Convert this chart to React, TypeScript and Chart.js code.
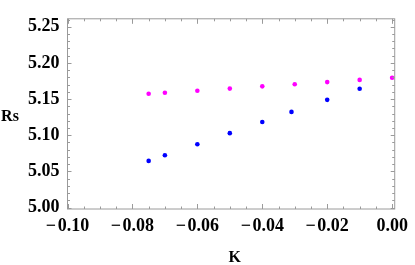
import React, { useEffect, useRef } from "react";
import { Chart, registerables } from "chart.js";

Chart.register(...registerables);

const kBlue = [-0.075, -0.07, -0.06, -0.05, -0.04, -0.031, -0.02, -0.01];
const rsBlue = [5.0645, 5.0723, 5.0876, 5.1029, 5.1182, 5.1323, 5.1489, 5.1642];
const kMagenta = [-0.075, -0.07, -0.06, -0.05, -0.04, -0.03, -0.02, -0.01, 0.0];
const rsMagenta = [5.1574, 5.1587, 5.1616, 5.1645, 5.1676, 5.1705, 5.1735, 5.1765, 5.1795];

const xTicks = [-0.1, -0.08, -0.06, -0.04, -0.02, 0.0];
const yTicks = [5.0, 5.05, 5.1, 5.15, 5.2, 5.25];
const xMinorStep = 0.005;
const yMinorStep = 0.01;
const xTitle = "K";
const yTitle = "Rs";

const FRAME = "#9a9a9a";
const FONT = "'Liberation Serif', 'DejaVu Serif', serif";

const framePlugin = {
  id: "mmaFrame",
  afterDatasetsDraw(chart: any) {
    const { ctx, chartArea: a, scales } = chart;
    const xs = scales.x;
    const ys = scales.y;
    ctx.save();
    ctx.strokeStyle = FRAME;
    ctx.lineWidth = 1;
    ctx.strokeRect(a.left, a.top, a.right - a.left, a.bottom - a.top);
    ctx.beginPath();
    for (let i = 0; i <= 20; i++) {
      const v = -0.1 + i * xMinorStep;
      const px = Math.round(xs.getPixelForValue(v)) + 0.5;
      if (px < a.left || px > a.right) continue;
      const major = i % 4 === 0;
      const len = major ? 5 : 2.5;
      ctx.moveTo(px, a.bottom);
      ctx.lineTo(px, a.bottom - len);
      ctx.moveTo(px, a.top);
      ctx.lineTo(px, a.top + len);
    }
    for (let i = 0; i <= 26; i++) {
      const v = 5.0 + i * yMinorStep;
      const py = Math.round(ys.getPixelForValue(v)) + 0.5;
      if (py < a.top || py > a.bottom) continue;
      const major = i % 5 === 0;
      const len = major ? 4 : 2.5;
      ctx.moveTo(a.left, py);
      ctx.lineTo(a.left + len, py);
      ctx.moveTo(a.right, py);
      ctx.lineTo(a.right - len, py);
    }
    ctx.stroke();

    ctx.fillStyle = "#000";
    ctx.font = `bold 16px ${FONT}`;
    ctx.textAlign = "center";
    ctx.textBaseline = "middle";
    ctx.fillText(yTitle, a.left - 57.5, (a.top + a.bottom) / 2 + 2.5);
    ctx.fillText(xTitle, (a.left + a.right) / 2 + 3.5, a.bottom + 49);
    ctx.restore();
  },
};

const fmt = (v: number) => {
  const s = Math.abs(v).toFixed(2);
  return v < -1e-9 ? "\u2212\u200A" + s : s;
};

export default function App() {
  const ref = useRef<HTMLCanvasElement | null>(null);
  useEffect(() => {
    document.body.style.margin = "0";
    const canvas = ref.current!;
    const chart = new Chart(canvas, {
      type: "scatter",
      data: {
        datasets: [
          {
            data: kMagenta.map((k, i) => ({ x: k, y: rsMagenta[i] })),
            backgroundColor: "#ff00ff",
            borderWidth: 0,
            pointRadius: 2.3,
          },
          {
            data: kBlue.map((k, i) => ({ x: k, y: rsBlue[i] })),
            backgroundColor: "#0000ff",
            borderWidth: 0,
            pointRadius: 2.3,
          },
        ],
      },
      options: {
        responsive: false,
        animation: false,
        events: [],
        layout: { padding: { top: 3.3, right: 15.7, left: 0, bottom: 0 } },
        plugins: { legend: { display: false }, tooltip: { enabled: false } },
        scales: {
          x: {
            type: "linear",
            min: -0.1,
            max: 0.0008,
            grid: { display: false, drawTicks: false },
            border: { display: false },
            afterBuildTicks: (s: any) => {
              s.ticks = xTicks.map((v) => ({ value: v }));
            },
            afterFit: (s: any) => {
              s.height = 56;
            },
            ticks: {
              autoSkip: false,
              maxRotation: 0,
              padding: 7,
              color: "#000",
              font: { family: FONT, weight: "bold", size: 18 },
              callback: (v: any) => fmt(Number(v)),
            },
          },
          y: {
            type: "linear",
            min: 4.998,
            max: 5.261,
            grid: { display: false, drawTicks: false },
            border: { display: false },
            afterBuildTicks: (s: any) => {
              s.ticks = yTicks.map((v) => ({ value: v }));
            },
            afterFit: (s: any) => {
              s.width = 67.5;
            },
            ticks: {
              autoSkip: false,
              padding: 8,
              color: "#000",
              font: { family: FONT, weight: "bold", size: 18 },
              callback: (v: any) => Number(v).toFixed(2),
            },
          },
        },
      },
      plugins: [framePlugin],
    } as any);
    return () => chart.destroy();
  }, []);
  return (
    <div style={{ width: 415, height: 265 }}>
      <canvas ref={ref} width={415} height={265} />
    </div>
  );
}
